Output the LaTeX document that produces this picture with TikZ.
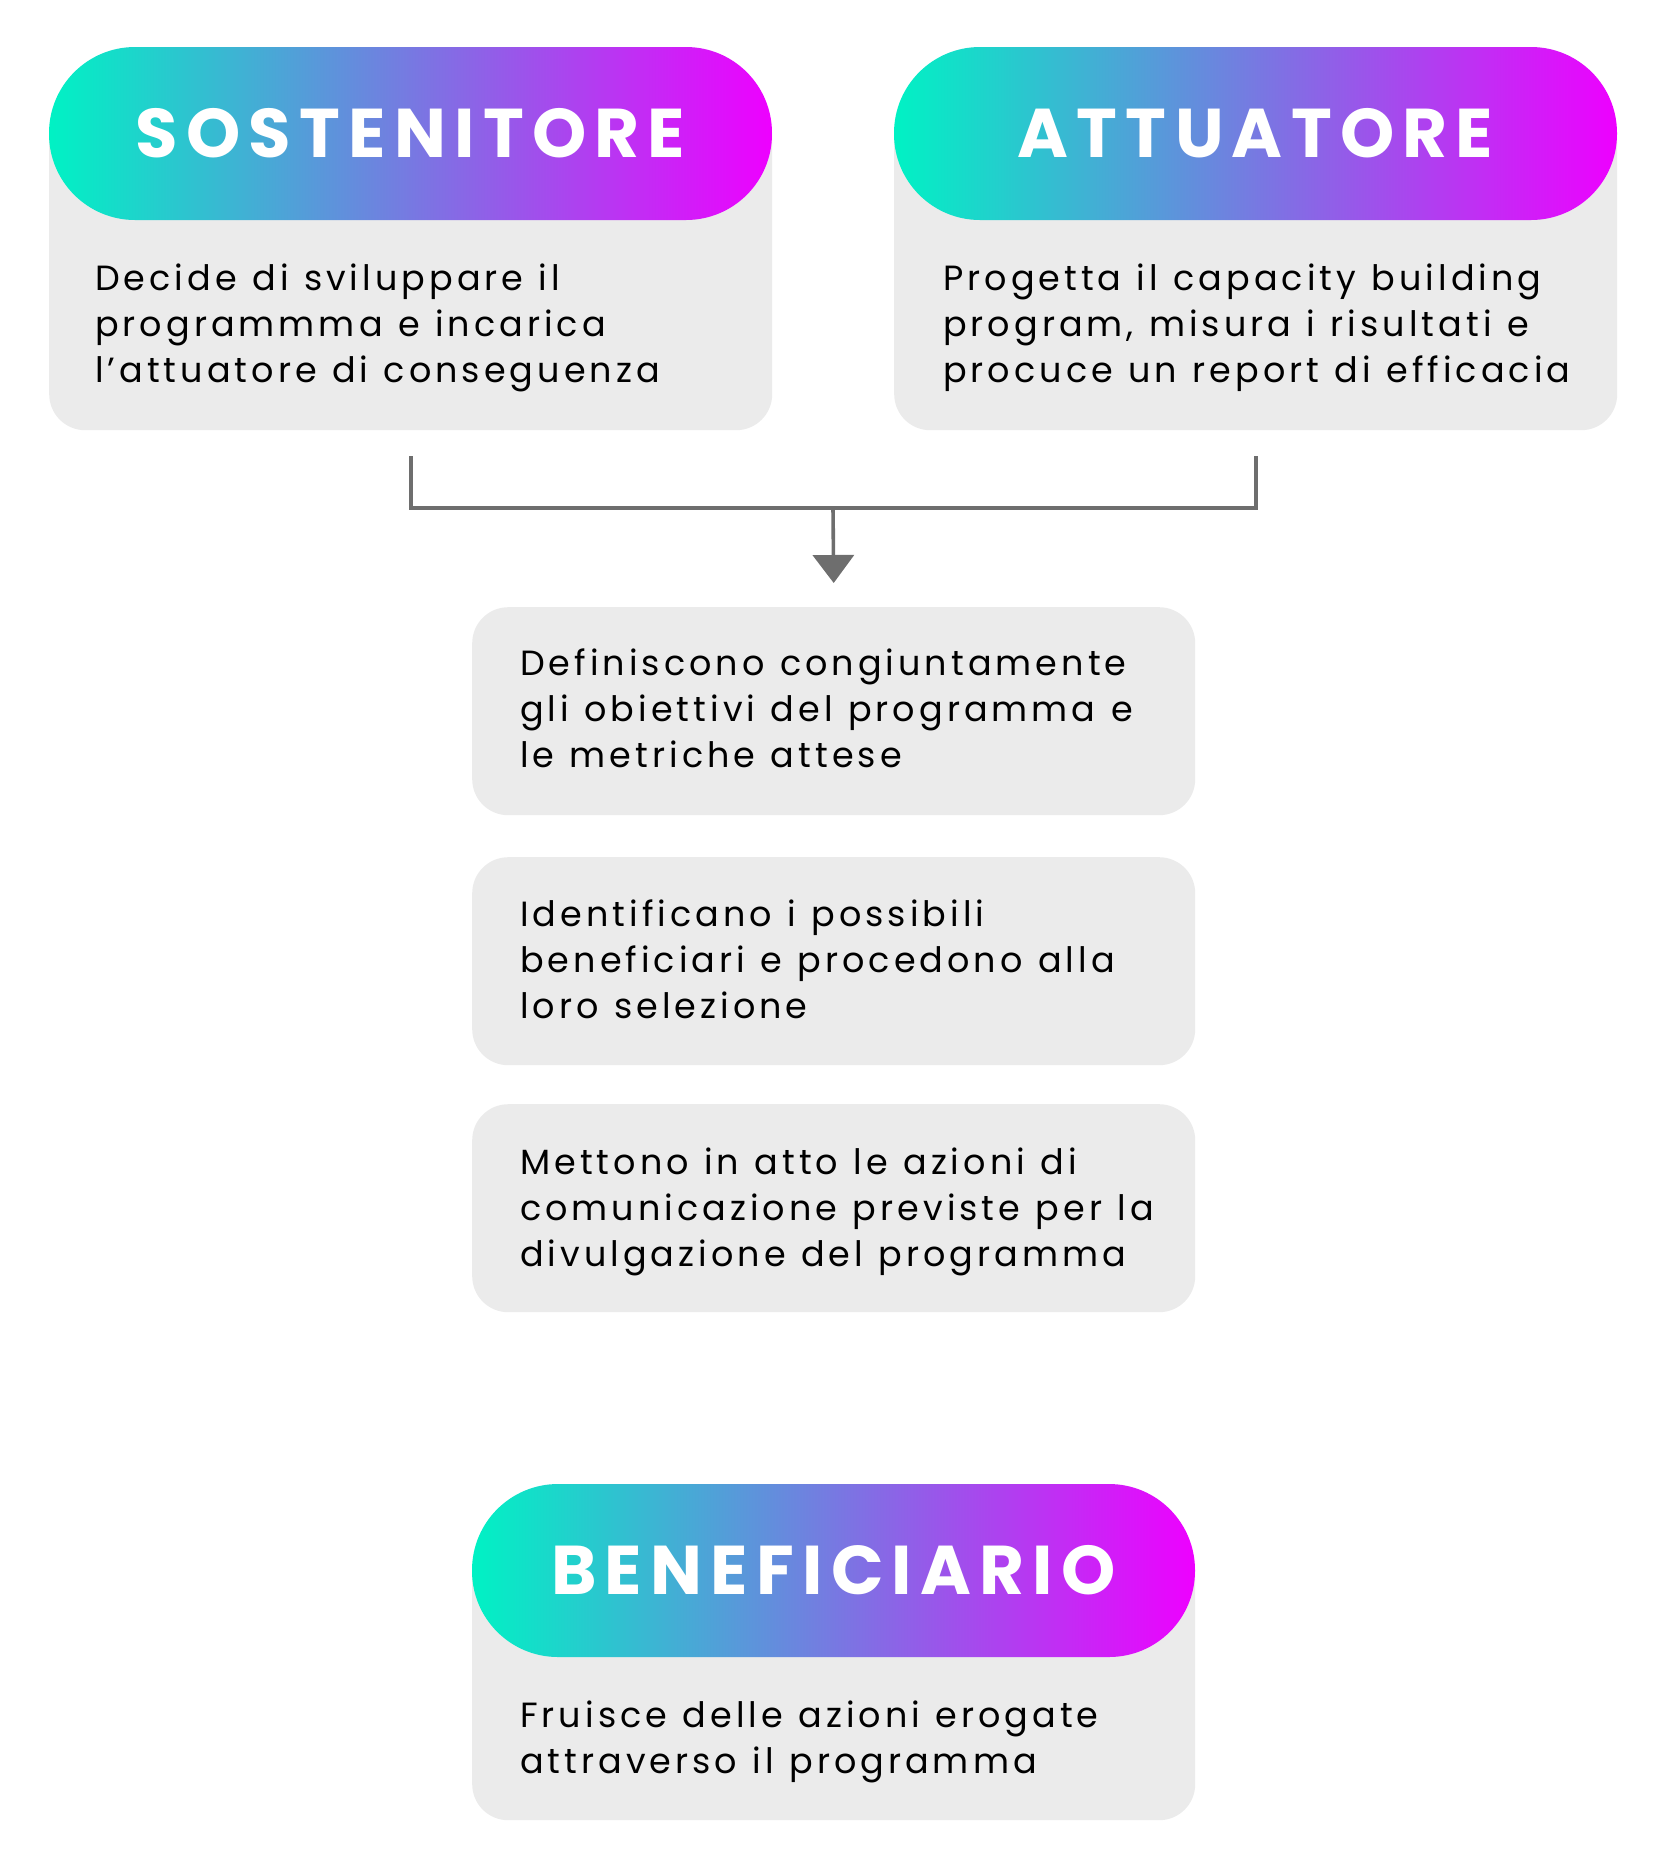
\documentclass[tikz,border=0pt]{standalone}
\usepackage{fontspec}
\setmainfont{Poppins}
\newfontfamily\bodyf[LetterSpace=11.5,WordSpace=1.15]{Poppins}
\newfontfamily\headf[LetterSpace=12]{Poppins}
\usetikzlibrary{arrows.meta}
\definecolor{gl}{RGB}{0,242,196}
\definecolor{gr}{RGB}{238,0,255}
\definecolor{boxgray}{RGB}{235,235,235}
\definecolor{conngray}{RGB}{110,110,110}
\begin{document}
\begin{tikzpicture}[x=1pt,y=-1pt,
  graybox/.style={fill=boxgray, rounded corners=36pt, minimum width=723pt, inner sep=0pt, anchor=north west},
  pill/.style={left color=gl, right color=gr, draw=none, rounded corners=86pt, minimum width=723pt, minimum height=173pt, inner sep=0pt, text=white, font=\headf\bfseries\fontsize{69pt}{69pt}\selectfont},
  body/.style={anchor=base west, align=left, inner sep=0pt, text=black, font=\bodyf\fontsize{35pt}{45.6pt}\selectfont},
  conn/.style={draw=conngray, line width=3.6pt}]
\useasboundingbox (0,0) rectangle (1667,1875);
% Sostenitore
\node[graybox, minimum height=330pt] (sbox) at (49,100) {};
\node[pill] (shead) at (410.5,133.5) {SOSTENITORE};
\node[body] (stext) at (95,382) {Decide di sviluppare il\\programmma e incarica\\l’attuatore di conseguenza};
% Attuatore
\node[graybox, minimum height=330pt] (abox) at (894,100) {};
\node[pill] (ahead) at (1255.5,133.5) {ATTUATORE};
\node[body] (atext) at (943,382) {Progetta il capacity building\\program, misura i risultati e\\procuce un report di efficacia};
% middle boxes
\node[graybox, minimum height=208pt] (d1) at (472,607) {};
\node[body] (d1t) at (520,767) {Definiscono congiuntamente\\gli obiettivi del programma e\\le metriche attese};
\node[graybox, minimum height=208pt] (d2) at (472,857) {};
\node[body] (d2t) at (520,1018) {Identificano i possibili\\beneficiari e procedono alla\\loro selezione};
\node[graybox, minimum height=208pt] (d3) at (472,1104) {};
\node[body] (d3t) at (520,1266) {Mettono in atto le azioni di\\comunicazione previste per la\\divulgazione del programma};
% Beneficiario
\node[graybox, minimum height=285pt] (bbox) at (472,1535) {};
\node[pill] (bhead) at (833.5,1570.5) {BENEFICIARIO};
\node[body] (btext) at (520,1773) {Fruisce delle azioni erogate\\attraverso il programma};
% connectors
\coordinate (jn) at (833,508);
\draw[conn] ([yshift=-26pt]sbox.south) |- (jn) -| ([yshift=-26pt]abox.south);
\draw[conn, -{Triangle[width=41pt,length=28pt]}] (jn) -- ([yshift=24pt]d1.north);
\end{tikzpicture}
\end{document}
